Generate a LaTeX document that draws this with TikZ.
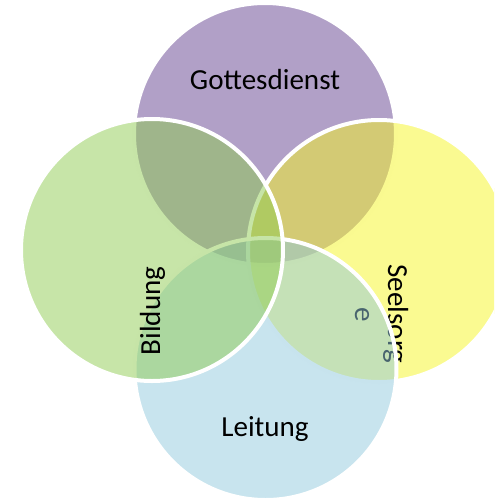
\documentclass[tikz,border=0pt]{standalone}
\usepackage{fontspec}
\setmainfont{Carlito}
\definecolor{cpurple}{RGB}{99,65,143}
\definecolor{cyellow}{RGB}{245,245,35}
\definecolor{cblue}{RGB}{145,201,221}
\definecolor{cgreen}{RGB}{143,203,81}
\begin{document}
\begin{tikzpicture}[x=0.75pt,y=-0.75pt,
  ring/.style={circle, inner sep=0pt, minimum size=196.5pt, fill opacity=0.5,
    draw=white, draw opacity=1, line width=3pt},
  label/.style={font=\fontsize{21.8}{25}\selectfont, text=black, inner sep=0pt, anchor=base}]
\useasboundingbox (0,0) rectangle (494,501);
\clip (0,0) rectangle (494,501);
% top
\node[ring, fill=cpurple] (top) at (265,134) {};
\node[label] (gottes) at (265,89.5) {Gottesdienst};
% right
\node[ring, fill=cyellow] (right) at (379,251) {};
\node[label, rotate=-90] (seelA) at (388,314) {Seelsorg};
\node[label, rotate=-90] (seelB) at (355,315) {e};
% bottom
\node[ring, fill=cblue] (bottom) at (265.5,369) {};
\node[label] (leitung) at (265,436) {Leitung};
% left
\node[ring, fill=cgreen] (left) at (152,250) {};
\node[label, rotate=90] (bildung) at (160,311) {Bildung};
\end{tikzpicture}
\end{document}
